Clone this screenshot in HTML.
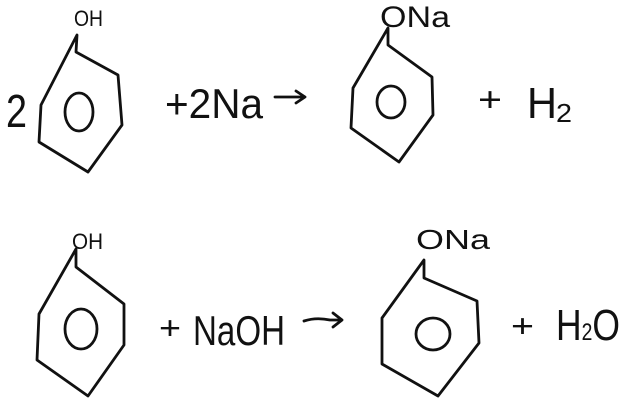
<!DOCTYPE html>
<html><head><meta charset="utf-8"><style>
html,body{margin:0;padding:0;background:#fff;width:640px;height:405px;overflow:hidden}
svg{display:block}
text{font-family:"Liberation Sans",sans-serif;fill:#111}
</style></head><body>
<svg width="640" height="405" viewBox="0 0 640 405" xmlns="http://www.w3.org/2000/svg">
<g fill="none" stroke="#111" stroke-width="2.8" stroke-linejoin="round" stroke-linecap="round">
<path d="M77,35 L76,52 L118,75 L122,125 L88,172 L39,142 L41,105 Z"/>
<ellipse cx="79" cy="112" rx="14" ry="19"/>
<path d="M388,28 L388,45 L432,77 L433,115 L399,162 L351,128 L353,88 Z"/>
<ellipse cx="391" cy="102" rx="14" ry="16"/>
<path d="M275,97 L305,97 M296,91 L305,97 L296,103"/>
<path d="M76,249 L76,267 L124,304 L124,345 L88,396 L37,360 L39,314 Z"/>
<ellipse cx="81" cy="329" rx="16" ry="20"/>
<path d="M424,260 L424,278 L477,301 L479,343 L438,396 L382,364 L382,318 Z"/>
<ellipse cx="433" cy="334" rx="17" ry="16"/>
<path d="M304,321 Q316,317 330,320 L342,320 M333,313 L342,320 L333,327"/>
</g>
<text x="74" y="26" font-size="22" textLength="29" lengthAdjust="spacingAndGlyphs">OH</text>
<text x="6" y="127" font-size="46" textLength="21" lengthAdjust="spacingAndGlyphs">2</text>
<text x="165" y="118" font-size="42" textLength="98" lengthAdjust="spacingAndGlyphs">+2Na</text>
<text x="380" y="27" font-size="30" textLength="70" lengthAdjust="spacingAndGlyphs">ONa</text>
<text x="478" y="111" font-size="34" textLength="24" lengthAdjust="spacingAndGlyphs">+</text>
<text x="527" y="118" font-size="44" textLength="30" lengthAdjust="spacingAndGlyphs">H</text>
<text x="556" y="122" font-size="26" textLength="16" lengthAdjust="spacingAndGlyphs">2</text>
<text x="72" y="249" font-size="22" textLength="31" lengthAdjust="spacingAndGlyphs">OH</text>
<text x="159" y="339" font-size="32" textLength="22" lengthAdjust="spacingAndGlyphs">+</text>
<text x="193" y="345" font-size="42" textLength="92" lengthAdjust="spacingAndGlyphs">NaOH</text>
<text x="416" y="249" font-size="28" textLength="74" lengthAdjust="spacingAndGlyphs">ONa</text>
<text x="511" y="337" font-size="32" textLength="23" lengthAdjust="spacingAndGlyphs">+</text>
<text x="556" y="340" font-size="44" textLength="64" lengthAdjust="spacingAndGlyphs">H<tspan font-size="24">2</tspan>O</text>
</svg>
</body></html>
